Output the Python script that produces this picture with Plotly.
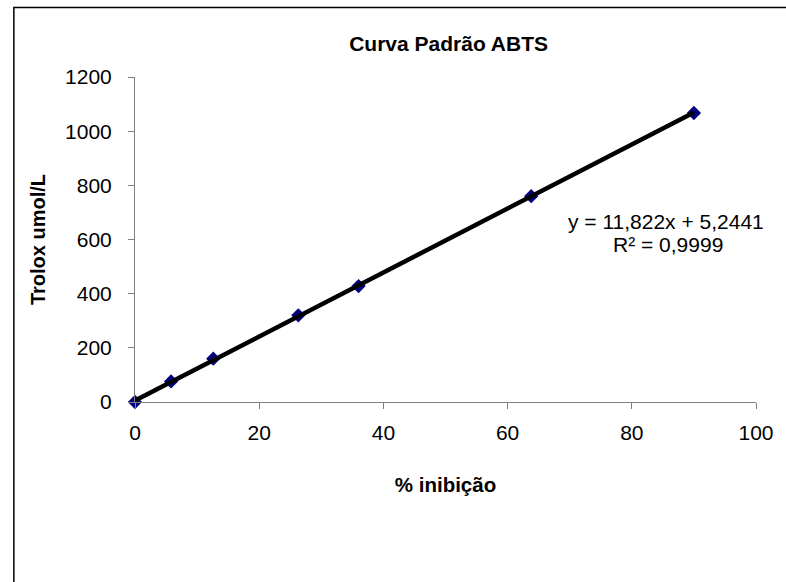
import plotly.graph_objects as go

inhibition = [0, 5.8, 12.6, 26.3, 36.0, 63.8, 90.0]
trolox = [0, 76, 160, 320, 428, 760, 1067]
slope = 11.822
intercept = 5.2441
eq_line1 = "y = 11,822x + 5,2441"
eq_line2 = "R² = 0,9999"
x_ticks = [0, 20, 40, 60, 80, 100]
y_ticks = [0, 200, 400, 600, 800, 1000, 1200]

FONT = "Liberation Sans, Arial, sans-serif"
W, H = 786, 582
L, R, T, B = 135, 23, 77, 180

fig = go.Figure()
fig.add_trace(go.Scatter(
    x=inhibition, y=trolox, mode="markers",
    marker=dict(symbol="diamond", size=11, color="#000080"),
    showlegend=False, cliponaxis=False,
))
x_line = [min(inhibition), max(inhibition)]
fig.add_trace(go.Scatter(
    x=x_line, y=[slope * v + intercept for v in x_line], mode="lines",
    line=dict(color="black", width=4.5),
    showlegend=False, cliponaxis=False,
))

fig.update_layout(
    width=W, height=H,
    margin=dict(l=L, r=R, t=T, b=B),
    paper_bgcolor="white", plot_bgcolor="white",
    font=dict(family=FONT, color="black", size=21),
    title=dict(text="<b>Curva Padrão ABTS</b>", x=0.505, xref="paper",
               y=1 - 44 / H, yref="container", yanchor="middle", xanchor="center",
               font=dict(size=21, family=FONT)),
    showlegend=False,
)
fig.update_xaxes(
    range=[0, 100], tickvals=x_ticks, showgrid=False, zeroline=False,
    showline=True, linecolor="#808080", linewidth=1,
    ticks="outside", ticklen=6, tickcolor="#808080", tickwidth=1,
    ticklabelstandoff=6,
    tickfont=dict(size=21, family=FONT),
    title=dict(text="<b>% inibição</b>", font=dict(size=20.5, family=FONT), standoff=34),
)
fig.update_yaxes(
    range=[0, 1200], tickvals=y_ticks, showgrid=False, zeroline=False,
    showline=True, linecolor="#808080", linewidth=1,
    ticks="outside", ticklen=6, tickcolor="#808080", tickwidth=1,
    ticklabelstandoff=12,
    tickfont=dict(size=21, family=FONT),
    title=dict(text="<b>Trolox umol/L</b>", font=dict(size=20, family=FONT), standoff=14),
)
fig.add_annotation(
    text=eq_line1, xref="x", yref="y", x=85.5, y=665, showarrow=False,
    xanchor="center", yanchor="middle",
    font=dict(size=21, family=FONT, color="black"),
)
fig.add_annotation(
    text=eq_line2, xref="x", yref="y", x=85.8, y=580, showarrow=False,
    xanchor="center", yanchor="middle",
    font=dict(size=21, family=FONT, color="black"),
)
fig.add_shape(
    type="rect", xref="paper", yref="paper",
    x0=(12.5 - L) / (W - L - R), x1=1.2,
    y0=-0.8, y1=(H - B - 7.5) / (H - T - B),
    line=dict(color="black", width=1.5), fillcolor="rgba(0,0,0,0)", layer="below",
)
fig.write_html(
    "out.html",
    config={"displayModeBar": False},
    post_script="document.body.style.margin='0px';",
)
